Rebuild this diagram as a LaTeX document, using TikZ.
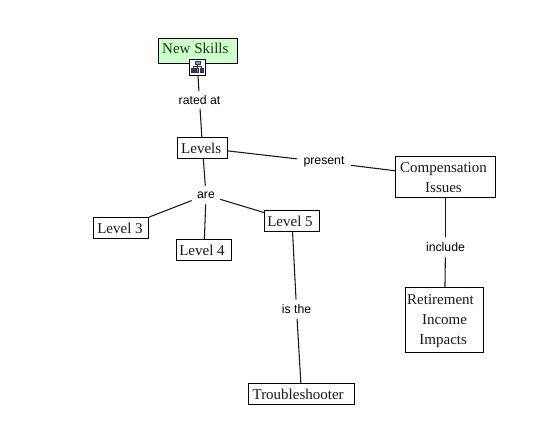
\documentclass[tikz,border=0pt]{standalone}
\usepackage{fontspec}
\setmainfont{Liberation Serif}
\newfontfamily\labelfont{Liberation Sans}
\definecolor{conceptgreen}{HTML}{CCFFCC}
\definecolor{iconblue}{HTML}{1F3F8F}
\definecolor{skilltext}{HTML}{1A3A1A}
\newcommand{\dn}{\rule{0pt}{8.5pt}}
\tikzset{
  x=0.75pt,y=-0.75pt,
  concept/.style={draw=black,line width=0.75pt,fill=white,inner sep=0pt,align=center,font=\fontsize{11.25pt}{15pt}\selectfont,text=black!90},
  linklabel/.style={inner sep=0pt,font=\labelfont\fontsize{9.2pt}{11pt}\selectfont,text=black},
  link/.style={draw=black!90,line width=0.8pt},
}
\begin{document}
\begin{tikzpicture}
\useasboundingbox (0,0) rectangle (535,445);
\fill[white] (0,0) rectangle (535,445);
% concepts
\node[concept,fill=conceptgreen,minimum width=59.25pt,minimum height=18.75pt,text=skilltext] (skills) at (198,51) {\hspace*{-4pt}\rule[-3.6pt]{0pt}{3pt}New Skills};
\node[concept,minimum width=37.5pt,minimum height=15.75pt] (levels) at (202.5,148) {\dn Levels\hspace*{2pt}};
\node[concept,minimum width=41.25pt,minimum height=15.75pt] (l3) at (121,228) {\dn Level 3\hspace*{1.5pt}};
\node[concept,minimum width=41.25pt,minimum height=15.75pt] (l4) at (204,250) {\dn Level 4\hspace*{3pt}};
\node[concept,minimum width=41.25pt,minimum height=15.75pt] (l5) at (292,221) {\dn Level 5\hspace*{3pt}};
\node[concept,minimum width=75pt,minimum height=30.75pt] (comp) at (445.5,177) {\dn Compensation\hspace*{3pt}\\Issues\hspace*{3pt}};
\node[concept,minimum width=58.5pt,minimum height=48.75pt] (ret) at (444.5,320) {\rule{0pt}{9.8pt}Retirement\hspace*{6pt}\\Income\hspace*{2.5pt}\\Impacts\hspace*{2pt}};
\node[concept,minimum width=79.5pt,minimum height=15.75pt] (trouble) at (301.5,394) {\dn Troubleshooter\hspace*{5pt}};
% icon
\node[draw=black,line width=0.75pt,fill=white,minimum size=12pt,inner sep=0pt] (icon) at (197.5,67.5) {};
\begin{scope}[shift={(icon.center)},line width=0.5pt]
  \filldraw[draw=iconblue,fill=iconblue!55] (-2.5,-6) rectangle (2.5,-3);
  \draw[black!80] (0,-3) -- (0,1) (-4,1) -- (-4,-1) -- (4,-1) -- (4,1);
  \filldraw[draw=black!80,fill=iconblue] (-6,1) rectangle (-2.5,5);
  \filldraw[draw=black!80,fill=iconblue] (2.5,1) rectangle (6,5);
  \filldraw[draw=black!80,fill=iconblue!60] (-1.3,1) rectangle (1.3,5);
\end{scope}
% linking phrases
\node[linklabel,minimum width=33pt,minimum height=12.75pt] (rated) at (199.5,100) {rated at};
\node[linklabel,minimum width=21pt,minimum height=13.5pt] (are) at (206,195) {are};
\node[linklabel,minimum width=40pt,minimum height=12.75pt] (present) at (324,162) {present};
\node[linklabel,minimum width=33pt,minimum height=15pt] (include) at (445.5,247) {include};
\node[linklabel,minimum width=27pt,minimum height=14pt] (isthe) at (296.5,309) {is the};
% connectors
\draw[link] (icon) -- (rated);
\draw[link] (rated) -- (levels);
\draw[link] (levels) -- (are);
\draw[link] (are) -- (l3);
\draw[link] (are) -- (l4);
\draw[link] (are) -- (l5);
\draw[link] (levels) -- (present);
\draw[link] (present) -- (comp);
\draw[link] (comp) -- (include);
\draw[link] (include) -- (ret);
\draw[link] (l5) -- (isthe);
\draw[link] (isthe) -- (trouble);
\end{tikzpicture}
\end{document}
